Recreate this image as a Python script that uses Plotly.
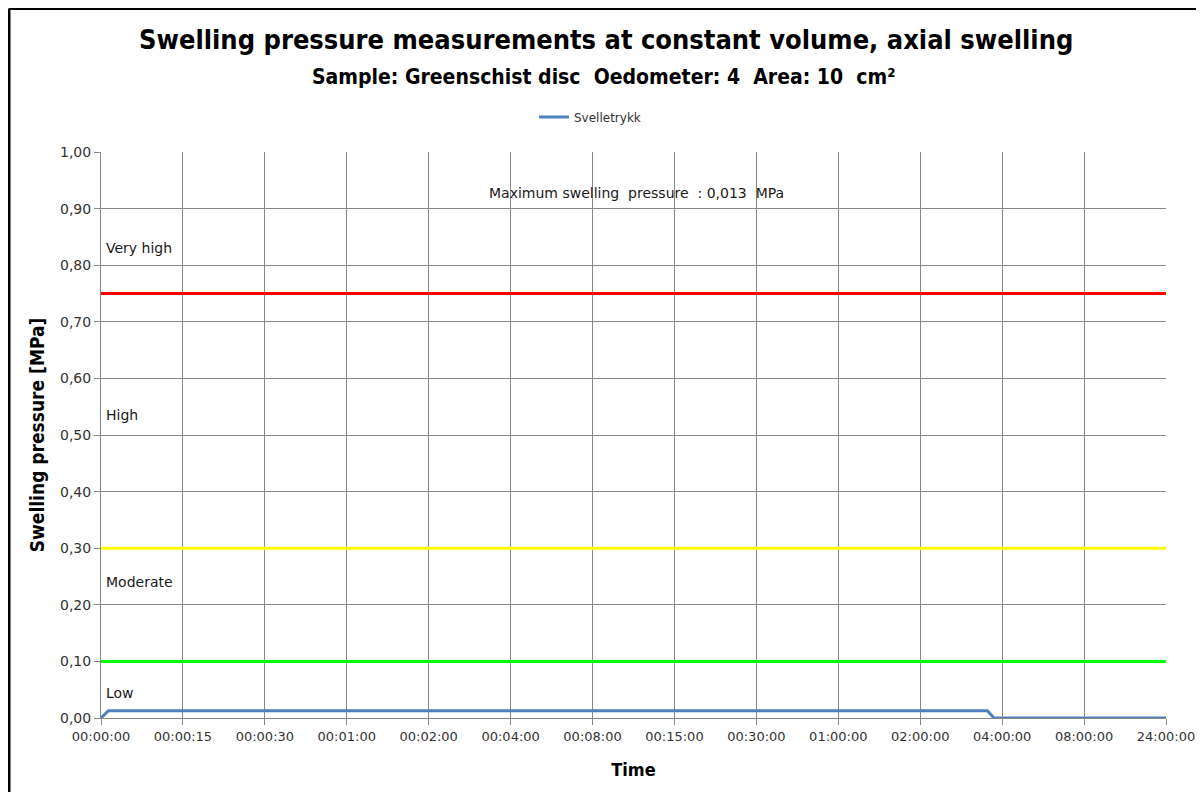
import plotly.graph_objects as go

# Category tick labels (time)
time_labels = ["00:00:00", "00:00:15", "00:00:30", "00:01:00", "00:02:00", "00:04:00",
               "00:08:00", "00:15:00", "00:30:00", "01:00:00", "02:00:00", "04:00:00",
               "08:00:00", "24:00:00"]
# Swelling pressure series (positions in category units, values in MPa)
svelle_pos = [0.0, 0.09, 10.82, 10.9, 13.0]
svelle_val = [0.0, 0.013, 0.013, 0.0, 0.0]

# Class limit lines
limit_values = [0.75, 0.30, 0.10]
limit_colors = ["#FF0000", "#FFFF00", "#00FF00"]

# Class labels
class_names = ["Very high", "High", "Moderate", "Low"]
class_y = [0.83, 0.535, 0.24, 0.044]

y_ticks = [i / 10 for i in range(11)]
y_ticktext = [f"{v:.2f}".replace(".", ",") for v in y_ticks]

FONT_C = "DejaVu Sans Condensed, DejaVu Sans, sans-serif"
FONT = "DejaVu Sans, sans-serif"

# figure-pixel geometry helpers (plot area)
L, R, T, B = 93, 1158, 144, 710


def px(x):
    return (x - L) / (R - L)


def py(y):
    return (B - y) / (B - T)


fig = go.Figure()
n = len(time_labels) - 1
for v, c in zip(limit_values, limit_colors):
    fig.add_trace(go.Scatter(x=[0, n], y=[v, v], mode="lines",
                             line=dict(color=c, width=3), showlegend=False,
                             hoverinfo="skip"))
fig.add_trace(go.Scatter(x=svelle_pos, y=svelle_val, mode="lines",
                         line=dict(color="#4F81BD", width=3), name="Svelletrykk"))

annotations = []
for name, yv in zip(class_names, class_y):
    annotations.append(dict(x=0.04, y=yv, xref="x", yref="y", text=name, showarrow=False,
                            xanchor="left", yanchor="middle",
                            font=dict(family=FONT, size=14, color="#1a1a1a")))
annotations.append(dict(x=6.54, y=0.927, xref="x", yref="y",
                        text="Maximum swelling  pressure  : 0,013  MPa", showarrow=False,
                        xanchor="center", yanchor="middle",
                        font=dict(family=FONT, size=14, color="#1a1a1a")))
# Titles
annotations.append(dict(x=px(598), y=py(32), xref="paper", yref="paper",
                        text="<b>Swelling pressure measurements at constant volume, axial swelling</b>",
                        showarrow=False, xanchor="center", yanchor="middle",
                        font=dict(family=FONT_C, size=27, color="#000000")))
annotations.append(dict(x=px(595), y=py(69), xref="paper", yref="paper",
                        text="<b>Sample: Greenschist disc  Oedometer: 4  Area: 10  cm²</b>",
                        showarrow=False, xanchor="center", yanchor="middle",
                        font=dict(family=FONT_C, size=21, color="#000000")))

shapes = [
    dict(type="line", xref="paper", yref="paper", x0=px(1), x1=px(1),
         y0=py(0.5), y1=py(800), line=dict(color="#000000", width=3)),
    dict(type="line", xref="paper", yref="paper", x0=px(1), x1=px(1210),
         y0=py(0.5), y1=py(0.5), line=dict(color="#000000", width=3)),
]

fig.update_layout(
    width=1204, height=792,
    margin=dict(l=L, r=1204 - R, t=T, b=792 - B),
    paper_bgcolor="white", plot_bgcolor="white",
    font=dict(family=FONT, color="#333333"),
    showlegend=True,
    legend=dict(orientation="h", x=px(582), y=py(109),
                xanchor="center", yanchor="middle", font=dict(family=FONT, size=12, color="#333333"),
                bgcolor="rgba(0,0,0,0)"),
    annotations=annotations,
    shapes=shapes,
    xaxis=dict(range=[0, n], tickmode="array", tickvals=list(range(len(time_labels))),
               ticktext=time_labels, showgrid=True, gridcolor="#888888", gridwidth=1,
               showline=True, linecolor="#888888", linewidth=1, ticks="outside", ticklen=6,
               tickcolor="#888888", zeroline=False,
               tickfont=dict(family=FONT, size=13, color="#333333"),
               title=dict(text="<b>Time</b>", font=dict(family=FONT_C, size=18, color="#000000"),
                          standoff=20)),
    yaxis=dict(range=[0, 1.0], tickmode="array", tickvals=y_ticks, ticktext=y_ticktext,
               showgrid=True, gridcolor="#888888", gridwidth=1, showline=True,
               linecolor="#888888", linewidth=1, ticks="outside", ticklen=6, tickcolor="#888888",
               zeroline=False, tickfont=dict(family=FONT, size=14, color="#333333"),
               title=dict(text="<b>Swelling pressure [MPa]</b>",
                          font=dict(family=FONT_C, size=19, color="#000000"), standoff=10)),
)

fig.write_html("out.html")
